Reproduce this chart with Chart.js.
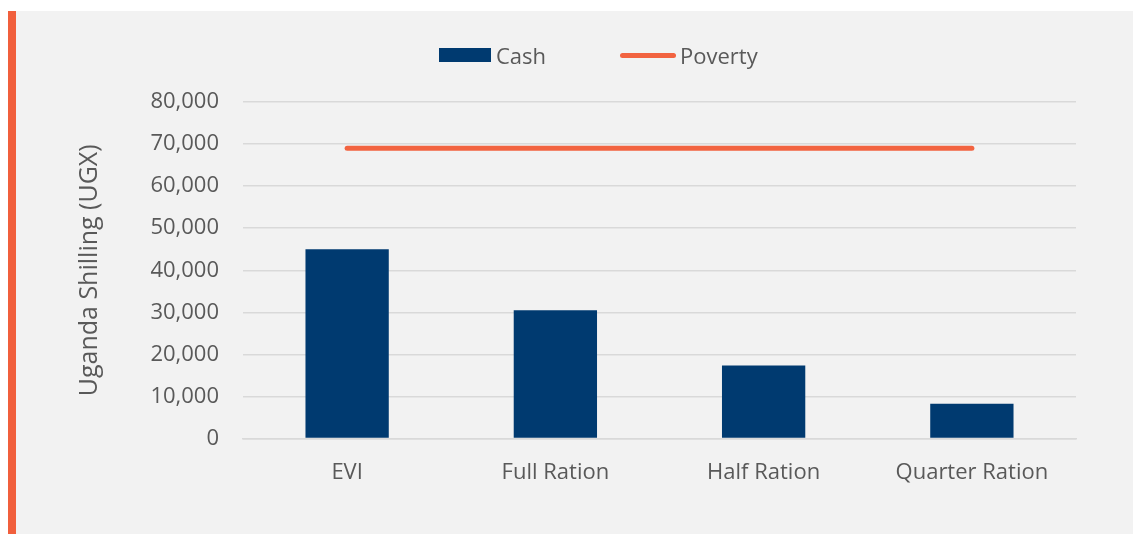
<!DOCTYPE html>
<html lang="en">
<head>
    <meta charset="UTF-8">
    <title>Cash vs Poverty (UGX)</title>
    <script src="https://cdn.jsdelivr.net/npm/chart.js"></script>
    <style>
        html, body { margin: 0; padding: 0; background: #ffffff; }
        #wrap {
            position: absolute; left: 8px; top: 11px; width: 1117px; height: 523px;
            border-left: 8px solid #f15f3c; background: #f2f2f2;
            font-family: "Open Sans", sans-serif; color: #595959;
        }
        #chartBox { position: absolute; left: 0; top: 0; width: 1117px; height: 523px; }
        #legend {
            position: absolute; left: 423px; top: 30px; height: 28px;
            display: flex; align-items: center; font-size: 22px; z-index: 2;
        }
        .item { display: flex; align-items: center; margin-right: 74px; }
        .swatch-bar { width: 52px; height: 14px; background: #003a70; margin-right: 5px; }
        .swatch-line { width: 56px; height: 5px; border-radius: 3px; background: #f26340; margin-right: 4px; }
    </style>
</head>
<body>
    <div id="wrap">
        <div id="legend">
            <div class="item"><span class="swatch-bar"></span><span>Cash</span></div>
            <div class="item"><span class="swatch-line"></span><span>Poverty</span></div>
        </div>
        <div id="chartBox"><canvas id="cashChart"></canvas></div>
    </div>

    <script>
        const categories = ['EVI', 'Full Ration', 'Half Ration', 'Quarter Ration'];
        const cashValues = [45000, 30500, 17400, 8300];
        const povertyValues = [69000, 69000, 69000, 69000];
        const yTicks = [0, 10000, 20000, 30000, 40000, 50000, 60000, 70000, 80000];

        const navy = '#003a70';
        const orange = '#f26340';
        const textColor = '#595959';
        const fontFamily = '"Open Sans", sans-serif';

        const ctx = document.getElementById('cashChart').getContext('2d');
        new Chart(ctx, {
            type: 'bar',
            data: {
                labels: categories,
                datasets: [{
                    label: 'Cash',
                    data: cashValues,
                    backgroundColor: navy,
                    borderWidth: 0,
                    barPercentage: 0.8,
                    categoryPercentage: 0.5,
                    order: 2
                }, {
                    type: 'line',
                    label: 'Poverty',
                    data: povertyValues,
                    borderColor: orange,
                    backgroundColor: orange,
                    borderWidth: 5,
                    borderCapStyle: 'round',
                    pointRadius: 0,
                    fill: false,
                    order: 1
                }]
            },
            options: {
                responsive: true,
                maintainAspectRatio: false,
                animation: false,
                layout: { padding: { top: 91, right: 57, bottom: 27, left: 0 } },
                plugins: {
                    tooltip: { enabled: false },
                    legend: { display: false }
                },
                scales: {
                    x: {
                        grid: { display: false, drawTicks: false },
                        border: { display: true, color: '#d9d9d9', width: 1.5 },
                        ticks: { color: textColor, font: { family: fontFamily, size: 22 }, padding: 21 }
                    },
                    y: {
                        min: 0,
                        max: 80000,
                        afterBuildTicks: (axis) => { axis.ticks = yTicks.map(v => ({ value: v })); },
                        afterFit: (axis) => { axis.width = 227; },
                        grid: { color: '#d9d9d9', lineWidth: 1.5, drawTicks: false },
                        border: { display: false },
                        ticks: {
                            color: textColor,
                            font: { family: fontFamily, size: 22 },
                            padding: 24,
                            callback: (v) => v.toLocaleString('en-US')
                        },
                        title: {
                            display: true,
                            text: 'Uganda Shilling (UGX)',
                            color: textColor,
                            font: { family: fontFamily, size: 25 },
                            padding: { top: 59, bottom: 0 }
                        }
                    }
                }
            }
        });
    </script>
</body>
</html>
